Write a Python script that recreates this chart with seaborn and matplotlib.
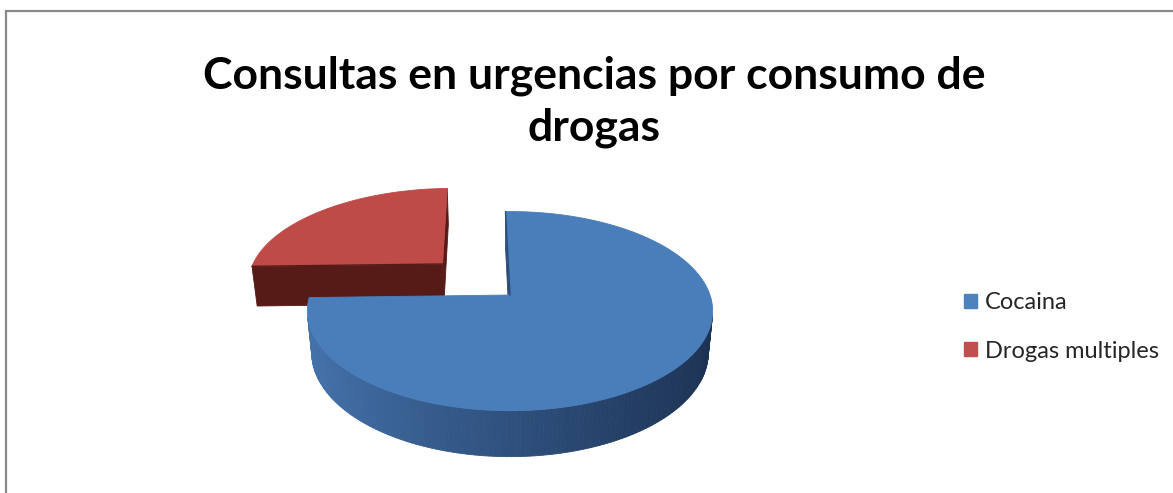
import numpy as np
import matplotlib
matplotlib.use("Agg")
import matplotlib.pyplot as plt
from matplotlib.patches import Polygon, Patch, Rectangle
from matplotlib.colors import to_rgb
import seaborn as sns

# ---- data -------------------------------------------------------------
categories = ["Cocaina", "Drogas multiples"]
values = [75, 25]
title_lines = ["Consultas en urgencias por consumo de", "drogas"]

# ---- style ------------------------------------------------------------
top_colors = ["#4A7EBB", "#BF4B48"]
wall_light = ["#4574AE", "#7A2A25"]
wall_dark = ["#1B3152", "#4A1411"]
cut_colors = ["#2B4C7A", "#561B17"]
legend_colors = ["#4F81BD", "#C0504D"]
explode = [0.0, 0.49]
first_slice_angle = 91.5

sns.set_theme(style="white")
plt.rcParams["font.family"] = ["Lato", "DejaVu Sans"]

W, H, DPI = 1173, 493, 100
fig = plt.figure(figsize=(W / DPI, H / DPI), dpi=DPI)
fig.patch.set_facecolor("white")

# ---- simple perspective camera for the 3-D pie ------------------------
elev = np.deg2rad(29)
dist = 5.4
height = 0.24
cam = np.array([0.0, -dist * np.cos(elev), dist * np.sin(elev)])


def project(X, Y, Z):
    X, Y, Z = map(np.asarray, (X, Y, Z))
    depth = dist + Y * np.cos(elev) - Z * np.sin(elev)
    k = dist / depth
    return np.column_stack([X * k, (Y * np.sin(elev) + Z * np.cos(elev)) * k])


def facing(normal, point):
    return np.dot(normal, cam - np.asarray(point)) > 1e-9


def mix(c1, c2, t):
    a, b = np.array(to_rgb(c1)), np.array(to_rgb(c2))
    return tuple(a * (1 - t) + b * t)


# axes in projected units, pie centre placed in the plot area
scale = 200.0
cx, cy = 510, 295
ax = fig.add_axes([0, 0, 1, 1])
ax.set_xlim(-cx / scale, (W - cx) / scale)
ax.set_ylim(-(H - cy) / scale, cy / scale)
ax.axis("off")


def add_poly(verts, color, z):
    ax.add_patch(Polygon(verts, closed=True, facecolor=color, edgecolor=color,
                         linewidth=0.6, zorder=z, joinstyle="round"))


total = float(sum(values))
slices = []
cum = 0.0
for i, v in enumerate(values):
    a0 = first_slice_angle - 360 * cum / total
    a1 = first_slice_angle - 360 * (cum + v) / total
    cum += v
    mid = np.deg2rad((a0 + a1) / 2)
    off = np.array([explode[i] * np.cos(mid), explode[i] * np.sin(mid)])
    slices.append((i, a0, a1, off))

# back slices first
slices.sort(key=lambda s: -(s[3][1] + 0.5 * np.sin(np.deg2rad((s[1] + s[2]) / 2))))

z = 1
for i, a0, a1, off in slices:
    ox, oy = off
    th = np.deg2rad(np.linspace(a0, a1, 241))
    rx, ry = ox + np.cos(th), oy + np.sin(th)
    faces = []
    # outer curved wall
    for j in range(len(th) - 1):
        tm = 0.5 * (th[j] + th[j + 1])
        n = np.array([np.cos(tm), np.sin(tm), 0.0])
        P = [ox + np.cos(tm), oy + np.sin(tm), -height / 2]
        if not facing(n, P):
            continue
        Xs = [rx[j], rx[j + 1], rx[j + 1], rx[j]]
        Ys = [ry[j], ry[j + 1], ry[j + 1], ry[j]]
        Zs = [0, 0, -height, -height]
        f = np.clip(0.5 - 0.5 * np.cos(tm), 0, 1) ** 1.1
        col = mix(wall_dark[i], wall_light[i], f)
        depth = dist + P[1] * np.cos(elev)
        faces.append((depth, project(Xs, Ys, Zs), col))
    # radial cut faces
    for ang, sgn in ((a0, 1), (a1, -1)):
        r = np.deg2rad(ang)
        n = np.array([-np.sin(r), np.cos(r), 0.0]) * sgn
        ex, ey = ox + np.cos(r), oy + np.sin(r)
        P = [(ox + ex) / 2, (oy + ey) / 2, -height / 2]
        if not facing(n, P):
            continue
        Xs = [ox, ex, ex, ox]
        Ys = [oy, ey, ey, oy]
        Zs = [0, 0, -height, -height]
        faces.append((dist + P[1] * np.cos(elev), project(Xs, Ys, Zs), cut_colors[i]))
    faces.sort(key=lambda f: -f[0])
    for _, verts, col in faces:
        add_poly(verts, col, z)
        z += 1
    # top face
    Xs = np.concatenate([[ox], rx])
    Ys = np.concatenate([[oy], ry])
    add_poly(project(Xs, Ys, np.zeros_like(Xs)), top_colors[i], z)
    z += 1
    # thin edge where the slice is cut along the first radius
    r = np.deg2rad(a0)
    edge = project([ox, ox + np.cos(r)], [oy, oy + np.sin(r)], [0, 0])
    ax.plot(edge[:, 0], edge[:, 1], color=cut_colors[i], lw=1.0, zorder=z)
    z += 1

# ---- title ------------------------------------------------------------
title_x = 594 / W
for line, base in zip(title_lines, (89, 141)):
    fig.text(title_x, 1 - base / H, line, ha="center", va="baseline",
             fontsize=32, fontweight="bold", color="black")

# ---- legend -----------------------------------------------------------
handles = [Patch(facecolor=c, edgecolor=c) for c in legend_colors]
fig.legend(handles, categories, loc="center left",
           bbox_to_anchor=(955 / W, 1 - 327 / H), frameon=False,
           fontsize=17, handlelength=0.55, handleheight=0.55,
           handletextpad=0.3, labelspacing=1.15, borderaxespad=0)

# ---- chart frame ------------------------------------------------------
fig.add_artist(Rectangle((5.5 / W, -0.1), 1.2, 1.1 - 11 / H, transform=fig.transFigure,
                         fill=False, edgecolor="#898989", linewidth=1.6, clip_on=False))

fig.savefig("out.png", dpi=DPI, facecolor="white")
